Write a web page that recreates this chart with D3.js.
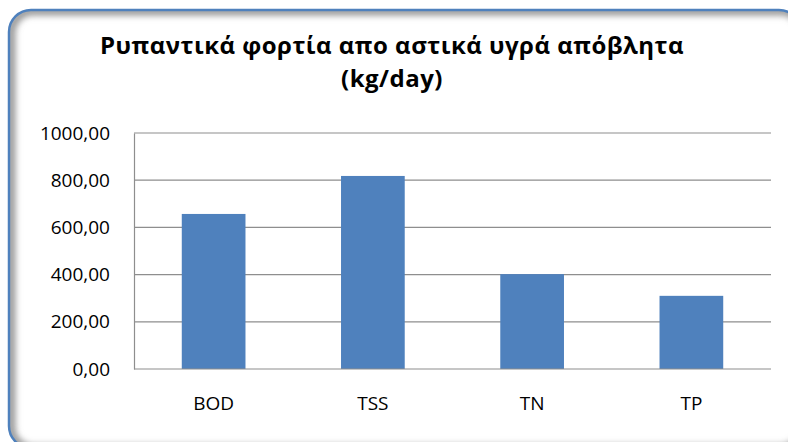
<!DOCTYPE html>
<html>
<head>
<meta charset="utf-8">
<script src="https://cdn.jsdelivr.net/npm/d3@7"></script>
<style>
  html, body { margin: 0; padding: 0; background: #fff; }
  svg { display: block; }
  text { font-family: "Open Sans", "DejaVu Sans", sans-serif; fill: #000; }
</style>
</head>
<body>
<div id="chart"></div>
<script>
// chart data
const categories = ["BOD", "TSS", "TN", "TP"];
const loads = [657, 818, 402, 310];
const yTicks = [0, 200, 400, 600, 800, 1000];
const titleLines = ["Ρυπαντικά φορτία απο αστικά υγρά απόβλητα", "(kg/day)"];

const w = 788;
const h = 442;
const margin = { top: 133, right: 17, bottom: 73, left: 134 };

const svg = d3.select("#chart")
    .append("svg")
    .attr("width", w)
    .attr("height", h);

// frame with inner shadow (top/left), cut off at right/bottom like the original
const defs = svg.append("defs");
defs.append("clipPath").attr("id", "frameClip")
    .append("rect")
    .attr("x", 9).attr("y", 10)
    .attr("width", 792).attr("height", 438)
    .attr("rx", 22).attr("ry", 22);
defs.append("filter").attr("id", "soft")
    .attr("x", "-10%").attr("y", "-10%").attr("width", "120%").attr("height", "120%")
    .append("feGaussianBlur").attr("stdDeviation", 3);

svg.append("g")
    .attr("clip-path", "url(#frameClip)")
    .append("rect")
    .attr("x", 11).attr("y", 11)
    .attr("width", 792).attr("height", 438)
    .attr("rx", 22).attr("ry", 22)
    .attr("fill", "none")
    .attr("stroke", "#9a9a9a")
    .attr("stroke-width", 9)
    .attr("filter", "url(#soft)");

svg.append("rect")
    .attr("x", 9).attr("y", 10)
    .attr("width", 792).attr("height", 438)
    .attr("rx", 22).attr("ry", 22)
    .attr("fill", "none")
    .attr("stroke", "#4f81bd")
    .attr("stroke-width", 2.5);

// title, one text per line
const titleY = [54, 87];
const titles = svg.selectAll(".title")
    .data(titleLines)
    .enter()
    .append("text")
    .attr("class", "title")
    .attr("x", 392)
    .attr("y", (d, i) => titleY[i])
    .attr("text-anchor", "middle")
    .attr("font-weight", "bold")
    .attr("font-size", 24)
    .text(d => d);

// widen the first line a bit with letter spacing so it spans like the original
const first = titles.node().getComputedTextLength();
const extra = Math.max(0, Math.min(1, (584 - first) / titleLines[0].length));
titles.attr("letter-spacing", extra);

// scales
const x = d3.scaleBand()
    .domain(categories)
    .range([margin.left, w - margin.right])
    .paddingInner(0.6)
    .paddingOuter(0.3);

const y = d3.scaleLinear()
    .domain([0, 1000])
    .range([h - margin.bottom, margin.top]);

const comma = d3.formatLocale({ decimal: ",", thousands: "", grouping: [3], currency: ["", ""] }).format(".2f");

// gridlines
svg.append("g")
    .selectAll("line")
    .data(yTicks.filter(d => d > 0))
    .enter()
    .append("line")
    .attr("x1", margin.left)
    .attr("x2", w - margin.right)
    .attr("y1", d => y(d))
    .attr("y2", d => y(d))
    .attr("stroke", "#8e8e8e")
    .attr("stroke-width", 1.2);

// bars
svg.append("g")
    .selectAll("rect")
    .data(loads)
    .enter()
    .append("rect")
    .attr("x", (d, i) => x(categories[i]))
    .attr("y", d => y(d))
    .attr("width", x.bandwidth())
    .attr("height", d => y(0) - y(d))
    .attr("fill", "#4f81bd");

// y axis
const yAxis = svg.append("g")
    .attr("transform", "translate(" + margin.left + ",0)")
    .call(d3.axisLeft(y).tickValues(yTicks).tickSize(0).tickPadding(24).tickFormat(comma));
yAxis.select(".domain").attr("stroke", "#8e8e8e").attr("stroke-width", 1.2);
yAxis.selectAll("text")
    .attr("font-family", "Open Sans, DejaVu Sans, sans-serif")
    .attr("font-size", 19)
    .attr("fill", "#000");

// x axis
const xAxis = svg.append("g")
    .attr("transform", "translate(0," + y(0) + ")")
    .call(d3.axisBottom(x).tickSize(0).tickPadding(28));
xAxis.select(".domain")
    .attr("stroke", "#8e8e8e")
    .attr("stroke-width", 1.2)
    .attr("d", "M" + margin.left + ",0H" + (w - margin.right));
xAxis.selectAll("text")
    .attr("font-family", "Open Sans, DejaVu Sans, sans-serif")
    .attr("font-size", 19)
    .attr("fill", "#000");
</script>
</body>
</html>
